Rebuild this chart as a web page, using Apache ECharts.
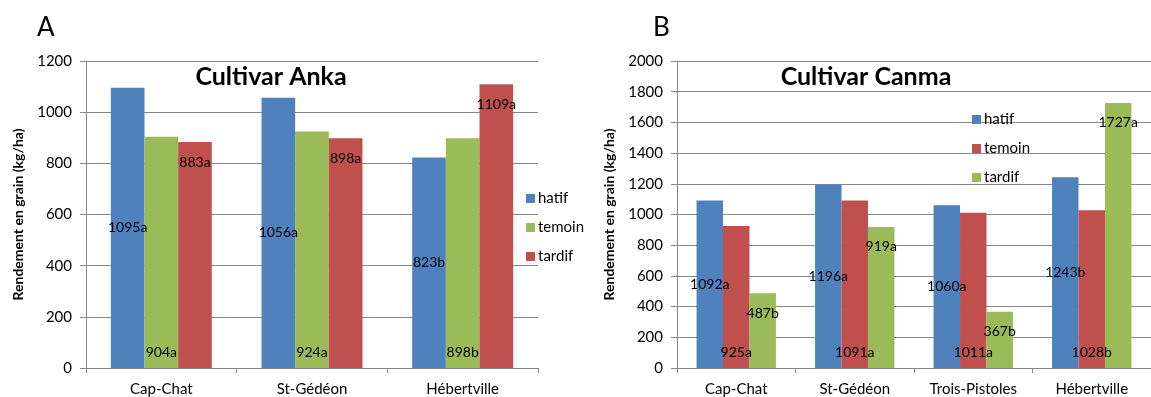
<!DOCTYPE html>
<html>
<head>
<meta charset="utf-8">
<script src="https://cdn.jsdelivr.net/npm/echarts@6/dist/echarts.min.js"></script>
<style>
html,body{margin:0;padding:0;background:#fff;}
#c{width:1151px;height:397px;}
</style>
</head>
<body>
<div id="c"></div>
<script>
// ---- Data ----
const catsA = ['Cap-Chat', 'St-Gédéon', 'Hébertville'];
const hatifA = [1095, 1056, 823];
const temoinA = [904, 924, 898];
const tardifA = [883, 898, 1109];
const hatifA_letters = ['a', 'a', 'b'];
const temoinA_letters = ['a', 'a', 'b'];
const tardifA_letters = ['a', 'a', 'a'];

const catsB = ['Cap-Chat', 'St-Gédéon', 'Trois-Pistoles', 'Hébertville'];
const hatifB = [1092, 1196, 1060, 1243];
const temoinB = [925, 1091, 1011, 1028];
const tardifB = [487, 919, 367, 1727];
const hatifB_letters = ['a', 'a', 'a', 'b'];
const temoinB_letters = ['a', 'a', 'a', 'b'];
const tardifB_letters = ['b', 'a', 'b', 'a'];

const ticksA = [0, 200, 400, 600, 800, 1000, 1200];
const ticksB = [0, 200, 400, 600, 800, 1000, 1200, 1400, 1600, 1800, 2000];

const BLUE = '#4F81BD', RED = '#C0504D', GREEN = '#9BBB59';
const FONT = 'Lato, "Open Sans", sans-serif';

function lbl(letters, pos, dist) {
  return {
    show: true, position: pos, distance: dist,
    color: '#000', fontFamily: FONT, fontSize: 14,
    formatter: p => p.value + letters[p.dataIndex]
  };
}
function bar(name, data, color, xi, letters, pos, dist) {
  return {
    type: 'bar', name: name, data: data, xAxisIndex: xi, yAxisIndex: xi,
    barGap: '0%', barCategoryGap: '33%',
    itemStyle: { color: color },
    label: lbl(letters, pos, dist),
    labelLayout: { hideOverlap: false },
    z: 2
  };
}
const axisCommon = {
  axisLine: { show: true, lineStyle: { color: '#888', width: 1 } },
  axisTick: { show: true, length: 5, lineStyle: { color: '#888' } },
  splitLine: { show: true, lineStyle: { color: '#888', width: 1 } }
};
function yAxisFor(idx, ticks) {
  return Object.assign({}, axisCommon, {
    type: 'value', gridIndex: idx, min: ticks[0], max: ticks[ticks.length - 1], interval: ticks[1] - ticks[0],
    axisTick: { show: true, inside: false, length: 6, lineStyle: { color: '#888' } },
    axisLabel: { fontFamily: FONT, fontSize: 15, color: '#000', margin: 14, formatter: v => String(v) },
    name: 'Rendement en grain (kg/ha)', nameLocation: 'middle', nameGap: 61, nameRotate: 90,
    nameTextStyle: { fontFamily: FONT, fontSize: 14, fontWeight: 'bold', color: '#000' }
  });
}
function xAxisFor(idx, cats) {
  return Object.assign({}, axisCommon, {
    type: 'category', gridIndex: idx, data: cats,
    splitLine: { show: false },
    axisTick: { show: true, length: 5, alignWithLabel: false, lineStyle: { color: '#888' } },
    axisLabel: { fontFamily: FONT, fontSize: 15, color: '#000', margin: 14 }
  });
}

const chart = echarts.init(document.getElementById('c'), null, { renderer: 'canvas' });
chart.setOption({
  animation: false,
  backgroundColor: '#fff',
  title: [
    { text: 'A', left: 32, top: 10, textStyle: { fontFamily: FONT, fontSize: 26, fontWeight: 'normal', color: '#000' } },
    { text: 'B', left: 648, top: 10, textStyle: { fontFamily: FONT, fontSize: 26, fontWeight: 'normal', color: '#000' } },
    { text: 'Cultivar Anka', left: 266, textAlign: 'center', top: 59, textStyle: { fontFamily: FONT, fontSize: 25, fontWeight: 'bold', color: '#000' } },
    { text: 'Cultivar Canma', left: 861, textAlign: 'center', top: 59, textStyle: { fontFamily: FONT, fontSize: 25, fontWeight: 'bold', color: '#000' } }
  ],
  legend: [
    {
      orient: 'vertical', left: 521, top: 186, itemWidth: 9, itemHeight: 9, itemGap: 14,
      icon: 'rect',
      textStyle: { fontFamily: FONT, fontSize: 15, color: '#000', padding: [0, 0, 0, -2] },
      data: [
        { name: 'hatif', itemStyle: { color: BLUE } },
        { name: 'temoin', itemStyle: { color: GREEN } },
        { name: 'tardif', itemStyle: { color: RED } }
      ],
      selectedMode: false
    },
    {
      orient: 'vertical', left: 967, top: 107, itemWidth: 9, itemHeight: 9, itemGap: 14,
      icon: 'rect',
      textStyle: { fontFamily: FONT, fontSize: 15, color: '#000', padding: [0, 0, 0, -2] },
      data: [
        { name: 'hatif', itemStyle: { color: BLUE } },
        { name: 'temoin', itemStyle: { color: RED } },
        { name: 'tardif', itemStyle: { color: GREEN } }
      ],
      selectedMode: false
    }
  ],
  grid: [
    { left: 86, width: 452, top: 61, height: 307, containLabel: false },
    { left: 677, width: 484, top: 61, height: 307, containLabel: false }
  ],
  xAxis: [xAxisFor(0, catsA), xAxisFor(1, catsB)],
  yAxis: [yAxisFor(0, ticksA), yAxisFor(1, ticksB)],
  series: [
    bar('hatif', hatifA, BLUE, 0, hatifA_letters, 'inside', 5),
    bar('temoin', temoinA, GREEN, 0, temoinA_letters, 'insideBottom', 9),
    bar('tardif', tardifA, RED, 0, tardifA_letters, 'insideTop', 13),
    bar('hatif', hatifB, BLUE, 1, hatifB_letters, 'inside', 5),
    bar('temoin', temoinB, RED, 1, temoinB_letters, 'insideBottom', 9),
    bar('tardif', tardifB, GREEN, 1, tardifB_letters, 'insideTop', 13)
  ]
});
</script>
</body>
</html>
